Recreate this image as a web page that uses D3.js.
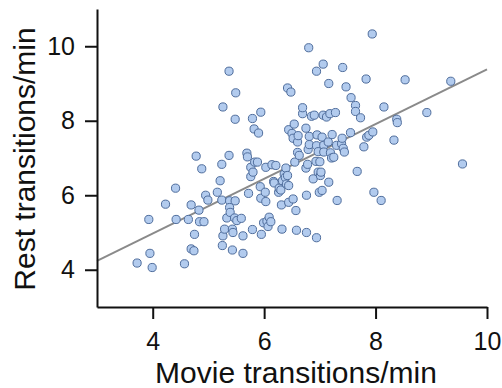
<!DOCTYPE html>
<html>
<head>
<meta charset="utf-8">
<script src="https://cdn.jsdelivr.net/npm/d3@7"></script>
<style>
  body { margin: 0; background: #fff; }
  svg { display: block; font-family: "Liberation Sans", Arial, sans-serif; }
  .axis path, .axis line { stroke: #111; stroke-width: 2; }
  .axis text { font-size: 25px; fill: #111; }
  .title { font-size: 30px; fill: #111; }
</style>
</head>
<body>
<div id="chart"></div>
<script>
// movie vs rest transitions per minute, one entry per subject
var movieRate = [
  3.72, 3.95, 3.99, 3.93, 4.23, 4.41, 4.42, 4.57, 4.64, 4.69,
  4.69, 4.74, 4.75, 4.78, 4.83, 4.84, 4.88, 4.92, 4.95, 4.99,
  5.16, 5.21, 5.24, 5.24, 5.26, 5.25, 5.26, 5.29, 5.33, 5.37,
  5.37, 5.38, 5.38, 5.39, 5.43, 5.44, 5.43, 5.47, 5.48, 5.49,
  5.48, 5.51, 5.59, 5.62, 5.62, 5.69, 5.70, 5.72, 5.76, 5.76,
  5.79, 5.79, 5.80, 5.82, 5.83, 5.90, 5.88, 5.93, 5.94, 5.94,
  5.95, 5.99, 6.02, 6.03, 6.03, 6.05, 6.07, 6.09, 6.12, 6.14,
  6.17, 6.18, 6.21, 6.26, 6.27, 6.30, 6.31, 6.32, 6.33, 6.36,
  6.38, 6.39, 6.40, 6.42, 6.44, 6.44, 6.42, 6.48, 6.44, 6.50,
  6.52, 6.54, 6.52, 6.55, 6.57, 6.58, 6.60, 6.60, 6.61, 6.63,
  6.69, 6.69, 6.75, 6.75, 6.76, 6.76, 6.78, 6.79, 6.81, 6.80,
  6.81, 6.85, 6.88, 6.90, 6.93, 6.94, 6.94, 6.94, 6.95, 6.97,
  6.97, 6.99, 7.00, 7.01, 7.02, 7.04, 7.04, 7.06, 7.06, 7.07,
  7.07, 7.12, 7.15, 7.16, 7.16, 7.18, 7.19, 7.21, 7.22, 7.25,
  7.28, 7.30, 7.31, 7.39, 7.41, 7.40, 7.42, 7.44, 7.47, 7.55,
  7.56, 7.64, 7.64, 7.67, 7.73, 7.79, 7.83, 7.84, 7.88, 7.94,
  7.95, 7.97, 8.10, 8.15, 8.33, 8.38, 8.39, 8.53, 8.92, 9.35,
  9.56
];
var restRate = [
  4.18, 4.44, 4.06, 5.35, 5.76, 6.19, 5.35, 4.16, 5.35, 5.74,
  4.56, 4.51, 4.95, 7.05, 5.60, 5.29, 6.71, 5.29, 6.00, 5.87,
  6.08, 6.39, 6.83, 5.87, 8.37, 4.65, 4.91, 5.09, 5.39, 9.33,
  7.07, 5.85, 5.67, 5.54, 5.09, 5.00, 4.53, 5.39, 5.85, 8.75,
  8.04, 5.32, 5.38, 4.91, 4.44, 7.13, 7.03, 6.05, 6.75, 6.50,
  5.08, 8.06, 6.62, 7.78, 6.89, 7.67, 6.89, 6.23, 8.23, 5.92,
  4.95, 5.26, 6.08, 6.75, 5.83, 5.30, 5.16, 5.41, 5.29, 6.82,
  6.37, 6.33, 6.80, 6.08, 6.19, 6.14, 5.74, 5.09, 6.39, 6.57,
  6.48, 6.73, 6.30, 6.53, 6.26, 5.81, 8.88, 8.77, 7.76, 7.66,
  7.53, 7.91, 5.90, 6.89, 5.59, 5.06, 7.43, 7.15, 7.60, 7.07,
  8.19, 8.35, 7.80, 6.73, 6.00, 5.00, 6.83, 7.23, 7.36, 9.96,
  7.58, 8.12, 6.44, 8.15, 6.91, 9.33, 7.33, 4.86, 7.62, 7.17,
  6.62, 6.08, 6.90, 6.53, 6.62, 7.56, 6.13, 9.52, 8.15, 7.34,
  7.16, 8.10, 7.43, 6.35, 9.00, 8.19, 7.14, 7.00, 7.63, 7.02,
  8.22, 7.34, 5.86, 7.38, 9.43, 7.53, 7.26, 7.16, 8.91, 7.68,
  8.62, 8.41, 8.25, 6.64, 8.08, 7.30, 9.12, 7.56, 7.61, 10.33,
  7.70, 6.08, 5.86, 8.37, 7.48, 8.04, 7.95, 9.10, 8.22, 9.06,
  6.84
];
// fitted line, read at the ends of the x range
var fitX = [3, 10];
var fitY = [4.24, 9.38];

var xTicks = [4, 6, 8, 10];
var yTicks = [4, 6, 8, 10];

var width = 502, height = 388;
var margin = { top: 9, right: 15, bottom: 81, left: 97 };

var svg = d3.select("#chart").append("svg")
  .attr("width", width)
  .attr("height", height);

var x = d3.scaleLinear().domain([3, 10]).range([margin.left, width - margin.right]);
var y = d3.scaleLinear().domain([3, 11]).range([height - margin.bottom, margin.top]);

// regression line first, points on top
svg.append("line")
  .attr("x1", x(fitX[0])).attr("y1", y(fitY[0]))
  .attr("x2", x(fitX[1])).attr("y2", y(fitY[1]))
  .attr("stroke", "#8a8a8a")
  .attr("stroke-width", 2);

var pts = movieRate.map(function (d, i) { return [d, restRate[i]]; });

svg.selectAll(".dot").data(pts).enter().append("circle")
  .attr("class", "dot")
  .attr("cx", function (d) { return x(d[0]); })
  .attr("cy", function (d) { return y(d[1]); })
  .attr("r", 4.1)
  .attr("fill", "#b2cbee")
  .attr("stroke", "#4f6d9c")
  .attr("stroke-width", 1);

svg.append("g")
  .attr("class", "axis")
  .attr("transform", "translate(0," + (height - margin.bottom) + ")")
  .call(d3.axisBottom(x).tickValues(xTicks).tickFormat(d3.format("d"))
    .tickSize(12).tickPadding(13).tickSizeOuter(0));

svg.append("g")
  .attr("class", "axis")
  .attr("transform", "translate(" + margin.left + ",0)")
  .call(d3.axisLeft(y).tickValues(yTicks).tickFormat(d3.format("d"))
    .tickSize(12).tickPadding(10).tickSizeOuter(0));

svg.append("text")
  .attr("class", "title")
  .attr("x", 296)
  .attr("y", 383)
  .attr("text-anchor", "middle")
  .text("Movie transitions/min");

svg.append("text")
  .attr("class", "title")
  .attr("transform", "translate(35,159) rotate(-90)")
  .attr("text-anchor", "middle")
  .text("Rest transitions/min");
</script>
</body>
</html>
